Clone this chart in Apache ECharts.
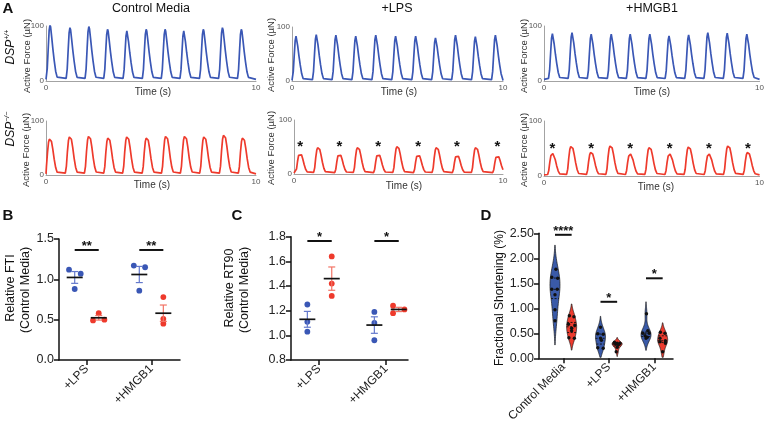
<!DOCTYPE html>
<html><head><meta charset="utf-8">
<script src="https://cdn.jsdelivr.net/npm/echarts@6/dist/echarts.min.js"></script>
<style>html,body{margin:0;padding:0;background:#fff}#c{width:767px;height:425px}</style>
</head><body><div id="c"></div>
<script>
// ===================== DATA =====================
// Panel A: peak times (s) and peak amplitudes (µN) read per beat
const traceTitles = ['Control Media', '+LPS', '+HMGB1'];
const wtPeakT_ctrl  = [0.19,1.14,2.04,2.93,3.85,4.77,5.67,6.56,7.49,8.40,9.30];
const wtPeakA_ctrl  = [102,97,99,94,91,94,94,91,94,97,94];
const wtPeakT_lps   = [0.19,1.15,2.08,3.02,3.97,4.91,5.86,6.80,7.75,8.69,9.64];
const wtPeakA_lps   = [83,86,85,83,85,83,83,80,85,82,85];
const wtPeakT_hmgb1 = [0.39,1.30,2.19,3.12,4.00,4.91,5.80,6.71,7.60,8.50,9.41];
const wtPeakA_hmgb1 = [86,88,85,85,85,85,82,84,88,87,85];
const koPeakT_ctrl  = [0.19,1.14,2.05,2.97,3.87,4.80,5.72,6.62,7.54,8.48,9.38];
const koPeakA_ctrl  = [67,71,72,69,71,69,72,72,71,74,69];
const koPeakT_lps   = [0.29,1.16,2.17,3.06,4.03,4.95,5.94,6.83,7.80,8.71,9.73];
const koPeakA_lps   = [38,49,37,49,37,51,36,49,35,49,34];
const koPeakT_hmgb1 = [0.39,1.27,2.19,3.09,4.00,4.90,5.83,6.72,7.65,8.55,9.46];
const koPeakA_hmgb1 = [41,54,43,55,40,52,40,53,40,55,43];
const traceBaseline = [3,1,3,2,2,2];
// single-beat shape: [time from peak (s), fraction of peak]
const beatShapeWT = [[-0.18,0.02],[-0.13,0.2],[-0.08,0.6],[-0.04,0.9],[0,1],[0.03,0.96],[0.08,0.78],[0.14,0.55],[0.20,0.35],[0.27,0.15],[0.34,0.04],[0.40,0.01]];
const beatShapeKO = [[-0.22,0.02],[-0.17,0.2],[-0.12,0.6],[-0.07,0.9],[-0.03,0.99],[0.02,1],[0.07,0.93],[0.13,0.72],[0.20,0.42],[0.27,0.18],[0.34,0.05],[0.40,0.01]];
const starredBeats = [0,2,4,6,8,10];
const starLevel = 50;

// Panel B: Relative FTI
const bCategories = ['+LPS', '+HMGB1'];
const bWT = [[1.12,1.07,0.88],[1.17,1.15,0.86]];
const bKO = [[0.49,0.58,0.50],[0.78,0.51,0.45]];
const bJitWT = [[-0.088,0.093,0],[-0.085,0.09,0]];
const bJitKO = [[-0.088,0,0.088],[0,0,0]];
const bSig = [{y:1.364, text:'**'},{y:1.364, text:'**'}];

// Panel C: Relative RT90
const cCategories = ['+LPS', '+HMGB1'];
const cWT = [[1.25,1.11,1.03],[1.19,1.10,0.96]];
const cKO = [[1.64,1.42,1.32],[1.24,1.18,1.21]];
const cJitWT = [[0,0,0],[0,0,0]];
const cJitKO = [[0,0,0],[-0.085,-0.085,0.085]];
const cSig = [{y:1.765, text:'*'},{y:1.765, text:'*'}];

// Panel D: Fractional shortening (%)
const dCategories = ['Control Media', '+LPS', '+HMGB1'];
const dWT = [[1.78,1.62,1.60,1.38,1.38,1.27,0.97,0.75],[0.62,0.49,0.48,0.40,0.36,0.21,0.20],[0.89,0.55,0.50,0.50,0.45,0.42,0.40]];
const dKO = [[0.85,0.83,0.68,0.66,0.60,0.55,0.41,0.40],[0.32,0.30,0.30,0.28,0.27,0.22,0.13],[0.52,0.50,0.40,0.35,0.33,0.30,0.13]];
const dJitWT = [[0.02,-0.07,0.06,-0.07,0.05,0,0,0],[0,-0.06,0.06,0,0.02,-0.06,0.06],[0.01,0.04,-0.07,0.07,-0.02,0.03,0]];
const dJitKO = [[-0.05,0.05,-0.07,0.07,0,0,-0.06,0.06],[-0.06,0,0.06,-0.03,0.03,0,-0.02],[-0.05,0.05,-0.06,0.06,-0.06,0.06,0]];
const dSig = [{y:2.47, text:'****'},{y:1.13, text:'*'},{y:1.60, text:'*'}];

// ===================== STYLE =====================
const FF = '"Liberation Sans", Arial, Helvetica, sans-serif';
const BLUE = '#3a57b5', RED = '#ee3a2c';
const BLUE_ERR = '#6479cc', RED_ERR = '#f27466';
const VBLUE = '#3a5aa8', VRED = '#ec3b2e';

// ===================== BUILD =====================
function buildTrace(peakT, peakA, shape, base) {
  const pts = [];
  peakT.forEach((t, i) => {
    shape.forEach(([dt, f]) => {
      const tt = t + dt;
      if (tt >= 0 && tt <= 10) pts.push([+tt.toFixed(3), base + f * (peakA[i] - base)]);
    });
  });
  if (pts[0][0] > 0) pts.unshift([0, base]);
  if (pts[pts.length - 1][0] < 10) pts.push([10, base]);
  return pts;
}
const traces = [
  {t: wtPeakT_ctrl, a: wtPeakA_ctrl, s: beatShapeWT, c: BLUE},
  {t: wtPeakT_lps, a: wtPeakA_lps, s: beatShapeWT, c: BLUE},
  {t: wtPeakT_hmgb1, a: wtPeakA_hmgb1, s: beatShapeWT, c: BLUE},
  {t: koPeakT_ctrl, a: koPeakA_ctrl, s: beatShapeKO, c: RED},
  {t: koPeakT_lps, a: koPeakA_lps, s: beatShapeKO, c: RED},
  {t: koPeakT_hmgb1, a: koPeakA_hmgb1, s: beatShapeKO, c: RED},
];
const gridsA = [
  {left:46, top:26, width:210, height:55},
  {left:292, top:27, width:211, height:54},
  {left:544, top:26, width:216, height:55},
  {left:46, top:121, width:210, height:54},
  {left:294, top:120, width:209, height:54},
  {left:544, top:121, width:216, height:55},
];
const grids = gridsA.concat([
  {left:59, top:239, width:121, height:121},     // B
  {left:291, top:236.7, width:117, height:123.3},// C
  {left:539, top:233.3, width:134, height:125},  // D
]);

const xAxes = [], yAxes = [], series = [];
gridsA.forEach((g, i) => {
  xAxes.push({gridIndex:i, type:'value', min:0, max:10, interval:10,
    axisLine:{show:true, onZero:false, lineStyle:{color:'#a3a3a3', width:1}},
    axisTick:{show:false}, splitLine:{show:false},
    axisLabel:{fontSize:8, color:'#555', margin:3, fontFamily:FF, showMinLabel:true, showMaxLabel:true}});
  yAxes.push({gridIndex:i, type:'value', min:0, max:100, interval:100,
    axisLine:{show:true, onZero:false, lineStyle:{color:'#a3a3a3', width:1}},
    axisTick:{show:false}, splitLine:{show:false},
    axisLabel:{fontSize:8, color:'#555', margin:2, fontFamily:FF, showMinLabel:true, showMaxLabel:true}});
  const tr = traces[i];
  series.push({type:'line', xAxisIndex:i, yAxisIndex:i, showSymbol:false, silent:true,
    data: buildTrace(tr.t, tr.a, tr.s, traceBaseline[i]),
    lineStyle:{color:tr.c, width:1.7}, itemStyle:{color:tr.c}, animation:false, clip:true});
});

function starSeries(gi, peakT) {
  return {type:'custom', xAxisIndex:gi, yAxisIndex:gi, silent:true, animation:false,
    data: starredBeats.map(k => [peakT[k], starLevel]),
    renderItem: (p, api) => {
      const c = api.coord([api.value(0), api.value(1)]);
      return {type:'text', x:c[0], y:c[1], style:{text:'*', font:'bold 15px ' + FF, fill:'#111', align:'center', verticalAlign:'middle'}};
    }};
}
series.push(starSeries(4, koPeakT_lps));
series.push(starSeries(5, koPeakT_hmgb1));

function catXAxis(gi, min, max, cats, fs) {
  const vals = cats.map((_, i) => i);
  return {gridIndex:gi, type:'value', min:min, max:max,
    axisLine:{show:true, onZero:false, lineStyle:{color:'#111', width:1.5}},
    axisTick:{show:true, customValues:vals, length:5, lineStyle:{color:'#111', width:1.5}},
    splitLine:{show:false},
    axisLabel:{customValues:vals, rotate:45, fontSize:fs, color:'#222', margin:7, fontFamily:FF,
      formatter: v => cats[Math.round(v)]}};
}
function numYAxis(gi, min, max, interval, dec) {
  return {gridIndex:gi, type:'value', min:min, max:max, interval:interval,
    axisLine:{show:true, onZero:false, lineStyle:{color:'#111', width:1.5}},
    axisTick:{show:true, length:5, lineStyle:{color:'#111', width:1.5}},
    splitLine:{show:false},
    axisLabel:{fontSize:12.5, color:'#222', margin:5, fontFamily:FF, showMinLabel:true, showMaxLabel:true,
      formatter: v => v.toFixed(dec)}};
}
xAxes.push(catXAxis(6, -0.429, 1.444, bCategories, 12));
yAxes.push(numYAxis(6, 0, 1.5, 0.5, 1));
xAxes.push(catXAxis(7, -0.418, 1.328, cCategories, 12));
yAxes.push(numYAxis(7, 0.8, 1.8, 0.2, 1));
xAxes.push(catXAxis(8, -0.534, 2.41, dCategories, 12));
yAxes.push(numYAxis(8, 0, 2.5, 0.5, 2));

// --- dot + mean ± SEM groups (B, C)
function meanSem(v) {
  const n = v.length, m = v.reduce((a, b) => a + b, 0) / n;
  const sd = Math.sqrt(v.reduce((a, b) => a + (b - m) * (b - m), 0) / (n - 1));
  return [m, sd / Math.sqrt(n)];
}
function dotGroups(wt, ko, jw, jk, offW, offK) {
  const gs = [];
  wt.forEach((v, i) => gs.push({x:i + offW, vals:v, jit:jw[i], color:BLUE, err:BLUE_ERR}));
  ko.forEach((v, i) => gs.push({x:i + offK, vals:v, jit:jk[i], color:RED, err:RED_ERR}));
  return gs;
}
function dotSeries(gi, gs) {
  return {type:'custom', xAxisIndex:gi, yAxisIndex:gi, silent:true, animation:false,
    data: gs.map(g => [g.x, meanSem(g.vals)[0]]),
    renderItem: (p, api) => {
      const g = gs[p.dataIndex];
      const [m, se] = meanSem(g.vals);
      const ch = [];
      const top = api.coord([g.x, m + se]), bot = api.coord([g.x, m - se]), mid = api.coord([g.x, m]);
      g.vals.forEach((v, k) => {
        const c = api.coord([g.x + g.jit[k], v]);
        ch.push({type:'circle', shape:{cx:c[0], cy:c[1], r:2.9}, style:{fill:g.color}});
      });
      ch.push({type:'line', shape:{x1:top[0], y1:top[1], x2:bot[0], y2:bot[1]}, style:{stroke:g.err, lineWidth:1.2}});
      ch.push({type:'line', shape:{x1:top[0]-3.5, y1:top[1], x2:top[0]+3.5, y2:top[1]}, style:{stroke:g.err, lineWidth:1.2}});
      ch.push({type:'line', shape:{x1:bot[0]-3.5, y1:bot[1], x2:bot[0]+3.5, y2:bot[1]}, style:{stroke:g.err, lineWidth:1.2}});
      ch.push({type:'line', shape:{x1:mid[0]-8, y1:mid[1], x2:mid[0]+8, y2:mid[1]}, style:{stroke:'#111', lineWidth:1.7}});
      return {type:'group', children:ch};
    }};
}
function sigSeries(gi, sig, offW, offK) {
  return {type:'custom', xAxisIndex:gi, yAxisIndex:gi, silent:true, animation:false,
    data: sig.map((s, i) => [i, s.y]),
    renderItem: (p, api) => {
      const s = sig[p.dataIndex], i = p.dataIndex;
      const a = api.coord([i + offW, s.y]), b = api.coord([i + offK, s.y]);
      return {type:'group', children:[
        {type:'line', shape:{x1:a[0], y1:a[1], x2:b[0], y2:b[1]}, style:{stroke:'#111', lineWidth:2}},
        {type:'text', x:(a[0] + b[0]) / 2, y:a[1] - 3.5, style:{text:s.text, font:'bold 13px ' + FF, fill:'#111', align:'center', verticalAlign:'middle'}}
      ]};
    }};
}
const bGroups = dotGroups(bWT, bKO, bJitWT, bJitKO, -0.186, 0.186);
series.push(dotSeries(6, bGroups));
series.push(sigSeries(6, bSig, -0.186, 0.186));
const cGroups = dotGroups(cWT, cKO, cJitWT, cJitKO, -0.174, 0.19);
series.push(dotSeries(7, cGroups));
series.push(sigSeries(7, cSig, -0.174, 0.19));

// --- violins (D)
function quantile(sorted, q) {
  const pos = (sorted.length - 1) * q, lo = Math.floor(pos), hi = Math.ceil(pos);
  return sorted[lo] + (sorted[hi] - sorted[lo]) * (pos - lo);
}
function violin(vals, x, jit, color) {
  const n = vals.length, m = vals.reduce((a, b) => a + b, 0) / n;
  const sd = Math.sqrt(vals.reduce((a, b) => a + (b - m) * (b - m), 0) / (n - 1));
  const h = 1.06 * sd * Math.pow(n, -0.2);
  const lo = Math.max(0.02, Math.min(...vals) - 2 * h), hi = Math.max(...vals) + 2 * h;
  const steps = 60, prof = [];
  let dmax = 0;
  for (let k = 0; k <= steps; k++) {
    const y = lo + (hi - lo) * k / steps;
    let d = 0;
    vals.forEach(v => { d += Math.exp(-0.5 * ((y - v) / h) ** 2); });
    prof.push([y, d]);
    dmax = Math.max(dmax, d);
  }
  const half = 0.11;
  prof.forEach(p => { p[1] = half * p[1] / dmax; });
  const s = vals.slice().sort((a, b) => a - b);
  return {x, vals, jit, color, prof, qs:[quantile(s, 0.25), quantile(s, 0.5), quantile(s, 0.75)]};
}
const dOff = 0.183;
const vGroups = [];
dWT.forEach((v, i) => vGroups.push(violin(v, i - dOff, dJitWT[i], VBLUE)));
dKO.forEach((v, i) => vGroups.push(violin(v, i + dOff, dJitKO[i], VRED)));
function widthAt(prof, y) {
  for (let k = 1; k < prof.length; k++) {
    if (prof[k][0] >= y) {
      const t = (y - prof[k-1][0]) / (prof[k][0] - prof[k-1][0]);
      return prof[k-1][1] + t * (prof[k][1] - prof[k-1][1]);
    }
  }
  return 0;
}
series.push({type:'custom', xAxisIndex:8, yAxisIndex:8, silent:true, animation:false,
  data: vGroups.map(g => [g.x, g.qs[1]]),
  renderItem: (p, api) => {
    const g = vGroups[p.dataIndex];
    const pts = [];
    g.prof.forEach(([y, w]) => pts.push(api.coord([g.x + w, y])));
    for (let k = g.prof.length - 1; k >= 0; k--) pts.push(api.coord([g.x - g.prof[k][1], g.prof[k][0]]));
    const ch = [{type:'polygon', shape:{points:pts}, style:{fill:g.color, stroke:'#1a1a1a', lineWidth:0.7}}];
    g.qs.forEach(q => {
      const w = widthAt(g.prof, q);
      const a = api.coord([g.x - w, q]), b = api.coord([g.x + w, q]);
      ch.push({type:'line', shape:{x1:a[0], y1:a[1], x2:b[0], y2:b[1]}, style:{stroke:'#111', lineWidth:0.9, lineDash:[2, 1.5]}});
    });
    g.vals.forEach((v, k) => {
      const c = api.coord([g.x + g.jit[k], v]);
      ch.push({type:'circle', shape:{cx:c[0], cy:c[1], r:1.7}, style:{fill:'#111'}});
    });
    return {type:'group', children:ch};
  }});
series.push(sigSeries(8, dSig, -dOff, dOff));

// --- free text
function txt(x, y, text, size, opts) {
  opts = opts || {};
  return {type:'text', x:x, y:y, rotation:opts.rot || 0, silent:true,
    style:{text:text, font:(opts.weight || '') + ' ' + size + 'px ' + FF, fill:opts.fill || '#111',
      align:'center', verticalAlign:'middle'}};
}
const R = Math.PI / 2;
const graphics = [
  txt(8, 9, 'A', 15, {weight:'bold'}),
  txt(8, 216, 'B', 15, {weight:'bold'}),
  txt(237, 216, 'C', 15, {weight:'bold'}),
  txt(486, 216, 'D', 15, {weight:'bold'}),
  txt(151, 9, traceTitles[0], 12.5),
  txt(397, 9, traceTitles[1], 12.5),
  txt(652, 9, traceTitles[2], 12.5),
  txt(153, 92, 'Time (s)', 10, {fill:'#333'}),
  txt(399, 92, 'Time (s)', 10, {fill:'#333'}),
  txt(652, 92, 'Time (s)', 10, {fill:'#333'}),
  txt(152, 185, 'Time (s)', 10, {fill:'#333'}),
  txt(404, 186, 'Time (s)', 10, {fill:'#333'}),
  txt(656, 187, 'Time (s)', 10, {fill:'#333'}),
  txt(27, 56, 'Active Force (µN)', 9.5, {rot:R, fill:'#333'}),
  txt(271, 55, 'Active Force (µN)', 9.5, {rot:R, fill:'#333'}),
  txt(524, 56, 'Active Force (µN)', 9.5, {rot:R, fill:'#333'}),
  txt(26, 150, 'Active Force (µN)', 9.5, {rot:R, fill:'#333'}),
  txt(271, 148, 'Active Force (µN)', 9.5, {rot:R, fill:'#333'}),
  txt(524, 150, 'Active Force (µN)', 9.5, {rot:R, fill:'#333'}),
  {type:'text', x:11, y:47, rotation:R, silent:true, style:{text:'{a|DSP}{b|+/+}', align:'center', verticalAlign:'middle',
    rich:{a:{font:'italic 12px ' + FF, fill:'#111', lineHeight:14}, b:{font:'italic 7px ' + FF, fill:'#111', verticalAlign:'top'}}}},
  {type:'text', x:11, y:129, rotation:R, silent:true, style:{text:'{a|DSP}{b|−/−}', align:'center', verticalAlign:'middle',
    rich:{a:{font:'italic 12px ' + FF, fill:'#111', lineHeight:14}, b:{font:'italic 7px ' + FF, fill:'#111', verticalAlign:'top'}}}},
  txt(11, 288, 'Relative FTI', 12.5, {rot:R}),
  txt(26, 290, '(Control Media)', 12.5, {rot:R}),
  txt(230, 288, 'Relative RT90', 12.5, {rot:R}),
  txt(245, 290, '(Control Media)', 12.5, {rot:R}),
  txt(500, 298, 'Fractional Shortening (%)', 12, {rot:R}),
];

const chart = echarts.init(document.getElementById('c'), null, {renderer:'canvas'});
chart.setOption({
  animation:false,
  backgroundColor:'#fff',
  textStyle:{fontFamily:FF},
  grid: grids.map(g => Object.assign({containLabel:false}, g)),
  xAxis: xAxes,
  yAxis: yAxes,
  series: series,
  graphic: graphics
});
</script></body></html>
